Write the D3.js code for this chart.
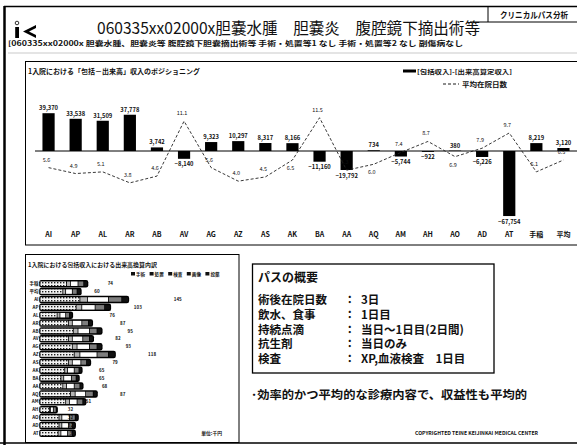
<!DOCTYPE html>
<html>
<head>
<meta charset="utf-8">
<script src="https://cdn.jsdelivr.net/npm/d3@7"></script>
<style>
  html, body { margin: 0; padding: 0; background: #fff; }
  svg { display: block; }
  text { font-family: "Noto Sans CJK JP", "Noto Sans", sans-serif; fill: #111; }
</style>
</head>
<body>
<svg id="slide" width="577" height="445"></svg>
<script>
// ---- Positioning chart: income difference (bars) and average length of stay (line)
const categories = ["AI","AP","AL","AR","AB","AV","AG","AZ","AS","AK","BA","AA","AQ","AM","AH","AO","AD","AT","手稲","平均"];
const incomeDiff = [39370,33538,31509,37778,3742,-8140,9323,10297,8317,8166,-11160,-19792,734,-5744,-922,380,-6226,-67754,8219,3120];
const avgStay    = [5.6,4.9,5.1,3.8,4.6,11.1,5.6,4.0,4.5,6.5,11.5,5.3,6.0,7.4,8.7,6.9,7.9,9.7,5.1,6.5];

// ---- Breakdown chart: fee-for-service components per hospital
const breakdownRows = ["手稲","平均","AI","AP","AL","AR","AB","AV","AG","AZ","AS","AK","BA","AA","AQ","AM","AH","AO","AD","AT"];
const breakdownKeys = ["手術","処置","検査","画像","投薬"];
const surgery    = [28,24,42,38,18,30,35,30,34,36,30,26,22,24,32,27,10,20,20,19];
const procedure  = [4,3,8,6,3,4,5,4,5,6,4,3,3,4,5,4,1,3,3,3];
const exam       = [8,7,22,14,6,10,12,11,13,18,9,7,8,8,11,8,3,8,7,7];
const imaging    = [6,5,14,10,4,7,8,7,8,12,6,5,5,6,8,6,3,6,4,5];
const medication = [4,4,7,6,3,4,5,4,5,7,4,3,3,3,4,3,1,3,3,3];
const rowMarkers = [74,60,145,103,76,87,95,82,93,118,79,65,65,68,87,51,32,32,32,34];

// ---- Path summary
const summaryItems  = ["術後在院日数","飲水、食事","持続点滴","抗生剤","検査"];
const summaryValues = ["3日","1日目","当日～1日目(2日間)","当日のみ","XP,血液検査　1日目"];

const svg = d3.select("#slide");
const fmt = d3.format(",");

// dotted fill used for the surgery segments
const defs = svg.append("defs");
const pat = defs.append("pattern").attr("id", "dots").attr("width", 3).attr("height", 3)
  .attr("patternUnits", "userSpaceOnUse");
pat.append("rect").attr("width", 3).attr("height", 3).attr("fill", "#f2f2f2");
pat.append("rect").attr("width", 1.4).attr("height", 1.4).attr("fill", "#222");

// slide frame
svg.append("rect").attr("width", 577).attr("height", 445).attr("fill", "#fff");
svg.append("line").attr("x1", 4).attr("x2", 577).attr("y1", 6.5).attr("y2", 6.5).attr("stroke", "#000").attr("stroke-width", 1.5);
svg.append("line").attr("x1", 4.5).attr("x2", 4.5).attr("y1", 6).attr("y2", 445).attr("stroke", "#000").attr("stroke-width", 2.5);
svg.append("line").attr("x1", 0).attr("x2", 577).attr("y1", 443).attr("y2", 443).attr("stroke", "#000").attr("stroke-width", 1.5);

// logo
const logo = svg.append("g");
logo.append("circle").attr("cx", 17).attr("cy", 23).attr("r", 1.8).attr("fill", "none").attr("stroke", "#000").attr("stroke-width", 0.8);
logo.append("rect").attr("x", 15.2).attr("y", 27).attr("width", 3.8).attr("height", 11).attr("fill", "#000");
logo.append("path").attr("d", "M36 25 L23 31.5 L36 38 L36 35 L29 31.5 L36 28 Z").attr("fill", "#000");

// header box
svg.append("line").attr("x1", 470).attr("x2", 577).attr("y1", 22).attr("y2", 22).attr("stroke", "#000");
svg.append("line").attr("x1", 488).attr("x2", 488).attr("y1", 6).attr("y2", 22).attr("stroke", "#000");
svg.append("text").attr("x", 500).attr("y", 17.5).attr("font-size", 8.5).attr("font-weight", 700)
  .attr("textLength", 68).attr("lengthAdjust", "spacingAndGlyphs").text("クリニカルパス分析");

// title and subtitle
svg.append("text").attr("x", 97).attr("y", 34).attr("font-size", 16)
  .attr("textLength", 383).attr("lengthAdjust", "spacingAndGlyphs")
  .text("060335xx02000x胆嚢水腫　胆嚢炎　腹腔鏡下摘出術等");
svg.append("text").attr("x", 8).attr("y", 46).attr("font-size", 7).attr("font-weight", 700)
  .attr("textLength", 455).attr("lengthAdjust", "spacingAndGlyphs")
  .text("[060335xx02000x 胆嚢水腫、胆嚢炎等 腹腔鏡下胆嚢摘出術等 手術・処置等1 なし 手術・処置等2 なし 副傷病なし");
svg.append("line").attr("x1", 8).attr("x2", 577).attr("y1", 53).attr("y2", 53).attr("stroke", "#bbb").attr("stroke-width", 0.8);

// ================= positioning chart =================
svg.append("rect").attr("x", 25.5).attr("y", 61.5).attr("width", 570).attr("height", 183.5)
  .attr("fill", "none").attr("stroke", "#000").attr("stroke-width", 1);
svg.append("text").attr("x", 28).attr("y", 74).attr("font-size", 6.8).attr("font-weight", 700)
  .attr("textLength", 172).attr("lengthAdjust", "spacingAndGlyphs")
  .text("1入院における「包括－出来高」収入のポジショニング");

// legend
svg.append("line").attr("x1", 403).attr("x2", 416).attr("y1", 71).attr("y2", 71).attr("stroke", "#000").attr("stroke-width", 3);
svg.append("text").attr("x", 417).attr("y", 73.5).attr("font-size", 6).attr("font-weight", 700)
  .attr("textLength", 95).attr("lengthAdjust", "spacingAndGlyphs").text("[包括収入]-[出来高算定収入]");
svg.append("line").attr("x1", 443).attr("x2", 459).attr("y1", 84).attr("y2", 84).attr("stroke", "#000")
  .attr("stroke-width", 0.9).attr("stroke-dasharray", "3,2");
svg.append("text").attr("x", 462).attr("y", 86.5).attr("font-size", 6.5).attr("font-weight", 700)
  .attr("textLength", 45).attr("lengthAdjust", "spacingAndGlyphs").text("平均在院日数");

const pos = categories.map((c, i) => ({ cat: c, v: incomeDiff[i], s: avgStay[i] }));

const x = d3.scaleBand().domain(categories).range([35, 577]).paddingInner(0.55).paddingOuter(0.275);
const yBar = d3.scaleLinear().domain([-70000, 40000]).range([218.2, 112.6]);
const yLine = d3.scaleLinear().domain([0, 14]).range([215, 96.6]);

// bars
svg.append("g").selectAll("rect").data(pos).join("rect")
  .attr("x", d => x(d.cat))
  .attr("width", x.bandwidth())
  .attr("y", d => Math.min(yBar(d.v), yBar(0)))
  .attr("height", d => Math.abs(yBar(d.v) - yBar(0)))
  .attr("fill", "#000");

// zero line
svg.append("line").attr("x1", 35).attr("x2", 577).attr("y1", yBar(0)).attr("y2", yBar(0))
  .attr("stroke", "#000").attr("stroke-width", 1);

// bar value labels
svg.append("g").selectAll("text").data(pos).join("text")
  .attr("x", d => x(d.cat) + x.bandwidth() / 2)
  .attr("y", d => d.v >= 0 ? yBar(d.v) - 3 : yBar(d.v) + 7.5)
  .attr("text-anchor", "middle").attr("font-size", 5.8).attr("font-weight", 700)
  .text(d => fmt(d.v));

// length-of-stay line
const line = d3.line().x(d => x(d.cat) + x.bandwidth() / 2).y(d => yLine(d.s));
svg.append("path").datum(pos).attr("d", line)
  .attr("fill", "none").attr("stroke", "#222").attr("stroke-width", 0.9).attr("stroke-dasharray", "3,2");

const lineLabelBelow = new Set(["AK", "AQ", "AO"]);
svg.append("g").selectAll("text").data(pos).join("text")
  .attr("x", d => x(d.cat) + x.bandwidth() / 2 - 2)
  .attr("y", d => lineLabelBelow.has(d.cat) ? yLine(d.s) + 10 : yLine(d.s) - 6)
  .attr("text-anchor", "middle").attr("font-size", 5.5).attr("fill", "#333")
  .text(d => d.s.toFixed(1));

// category axis labels
const xAxis = d3.axisBottom(x).tickSize(0).tickPadding(0);
const axisG = svg.append("g").attr("transform", "translate(0,232)").call(xAxis);
axisG.select(".domain").remove();
axisG.selectAll("text").attr("font-size", 7).attr("font-weight", 700).attr("fill", "#111")
  .attr("font-family", "\"Noto Sans CJK JP\", sans-serif");

// ================= breakdown chart =================
svg.append("rect").attr("x", 25.5).attr("y", 254.5).attr("width", 213.5).attr("height", 188)
  .attr("fill", "none").attr("stroke", "#000").attr("stroke-width", 1);
svg.append("text").attr("x", 28).attr("y", 267).attr("font-size", 5.5).attr("font-weight", 700)
  .attr("textLength", 129).attr("lengthAdjust", "spacingAndGlyphs")
  .text("1入院における包括収入における出来高換算内訳");

const segFill = ["url(#dots)", "#b5b5b5", "#ffffff", "#7d7d7d", "#111111"];
const segColor = d3.scaleOrdinal().domain(breakdownKeys).range(segFill);

const lg = svg.append("g").selectAll("g").data(breakdownKeys).join("g")
  .attr("transform", (d, i) => `translate(${131 + i * 18.6},272)`);
lg.append("rect").attr("width", 4).attr("height", 3.5).attr("fill", "#111");
lg.append("text").attr("x", 5).attr("y", 3.6).attr("font-size", 4.6).attr("font-weight", 700).text(d => d);

const rows = breakdownRows.map((r, i) => ({
  row: r, "手術": surgery[i], "処置": procedure[i], "検査": exam[i], "画像": imaging[i], "投薬": medication[i],
  marker: rowMarkers[i]
}));
const stacked = d3.stack().keys(breakdownKeys)(rows);

const bx = d3.scaleLinear().domain([0, 200]).range([40, 230]);
const by = d3.scaleBand().domain(breakdownRows).range([279, 438]).padding(0.2);

// dark capsule behind each stacked bar
svg.append("g").selectAll("rect").data(rows).join("rect")
  .attr("x", bx(0) - 0.8)
  .attr("y", d => by(d.row) - 0.6)
  .attr("width", d => bx(breakdownKeys.reduce((s, k) => s + d[k], 0)) - bx(0) + 1.6)
  .attr("height", by.bandwidth() + 1.2)
  .attr("rx", 2.2).attr("fill", "#000");

svg.append("g").selectAll("g").data(stacked).join("g")
  .attr("fill", d => segColor(d.key))
  .selectAll("rect").data(d => d).join("rect")
  .attr("x", d => bx(d[0]) + 0.4)
  .attr("y", d => by(d.data.row) + 0.9)
  .attr("width", d => Math.max(0, bx(d[1]) - bx(d[0]) - 0.8))
  .attr("height", by.bandwidth() - 1.8);

// row labels
svg.append("g").selectAll("text").data(rows).join("text")
  .attr("x", 38.5).attr("y", d => by(d.row) + by.bandwidth() / 2 + 1.6)
  .attr("text-anchor", "end").attr("font-size", 4.5).attr("font-weight", 700)
  .text(d => d.row);

// marker values
svg.append("g").selectAll("text").data(rows).join("text")
  .attr("x", d => bx(d.marker)).attr("y", d => by(d.row) + by.bandwidth() / 2 + 1.6)
  .attr("text-anchor", "middle").attr("font-size", 4.5).attr("font-weight", 700)
  .text(d => d.marker);

svg.append("text").attr("x", 222).attr("y", 435).attr("text-anchor", "end")
  .attr("font-size", 4.8).attr("font-weight", 700).text("単位:千円");

// ================= path summary =================
svg.append("rect").attr("x", 252.5).attr("y", 264).attr("width", 241.5).attr("height", 109)
  .attr("fill", "none").attr("stroke", "#000").attr("stroke-width", 1.3);
svg.append("text").attr("x", 258).attr("y", 281.5).attr("font-size", 12).attr("font-weight", 700)
  .text("パスの概要");

const sumG = svg.append("g").selectAll("g").data(summaryItems).join("g")
  .attr("transform", (d, i) => `translate(0,${304 + i * 14.8})`);
sumG.append("text").attr("x", 258).attr("font-size", 11.5).attr("font-weight", 700).text(d => d);
sumG.append("text").attr("x", 344).attr("font-size", 11.5).attr("font-weight", 700).text("：");
sumG.append("text").attr("x", 361).attr("font-size", 11.5).attr("font-weight", 700)
  .text((d, i) => summaryValues[i]);

svg.append("text").attr("x", 251).attr("y", 399).attr("font-size", 11.8).attr("font-weight", 700)
  .attr("textLength", 276).attr("lengthAdjust", "spacingAndGlyphs")
  .text("･効率的かつ平均的な診療内容で、収益性も平均的");

svg.append("text").attr("x", 415).attr("y", 435).attr("font-size", 5.2).attr("font-weight", 700)
  .attr("textLength", 123).attr("lengthAdjust", "spacingAndGlyphs")
  .text("COPYRIGHTED TEINE KEIJINKAI MEDICAL CENTER");
</script>
</body>
</html>
